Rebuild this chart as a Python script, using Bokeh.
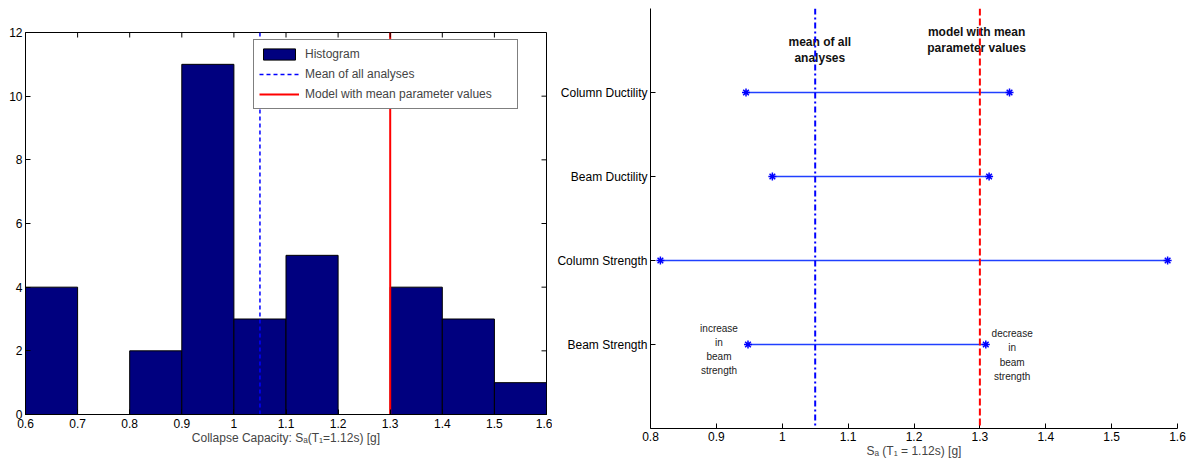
from bokeh.plotting import figure
from bokeh.layouts import row
from bokeh.models import (Range1d, FixedTicker, Legend, LegendItem,
                          CustomJSTickFormatter, Span)
from bokeh.core.properties import value
from bokeh.embed import file_html
from bokeh.resources import INLINE

# ---------------- data ----------------
bin_edges = [0.6, 0.7, 0.8, 0.9, 1.0, 1.1, 1.2, 1.3, 1.4, 1.5, 1.6]
counts = [4, 0, 2, 11, 3, 5, 0, 4, 3, 1]
mean_all = 1.05
model_mean = 1.30
hist_x_ticks = [0.6, 0.7, 0.8, 0.9, 1.0, 1.1, 1.2, 1.3, 1.4, 1.5, 1.6]
hist_y_ticks = [0, 2, 4, 6, 8, 10, 12]

factors = ["Beam Strength", "Column Strength", "Beam Ductility", "Column Ductility"]
low_vals = [0.948, 0.815, 0.985, 0.945]
high_vals = [1.309, 1.585, 1.314, 1.345]
tornado_x_ticks = [0.8, 0.9, 1.0, 1.1, 1.2, 1.3, 1.4, 1.5, 1.6]

FONT = "Liberation Sans"
fmt = CustomJSTickFormatter(code="return Number(tick.toFixed(2)).toString();")


def style_axis(ax):
    ax.major_tick_in = 5
    ax.major_tick_out = 0
    ax.minor_tick_line_color = None
    ax.axis_line_color = "black"
    ax.major_tick_line_color = "black"
    ax.major_label_text_font = FONT
    ax.major_label_text_font_size = "12px"
    ax.major_label_text_color = "black"
    ax.major_label_standoff = 3
    ax.axis_label_text_font = FONT
    ax.axis_label_text_font_size = "12px"
    ax.axis_label_text_font_style = "normal"
    ax.axis_label_standoff = 1


# ---------------- left: histogram ----------------
p1 = figure(frame_width=521, frame_height=382, output_backend="svg", toolbar_location=None,
            title=None,
            x_range=Range1d(bin_edges[0], bin_edges[-1]),
            y_range=Range1d(hist_y_ticks[0], hist_y_ticks[-1]),
            min_border_left=25, min_border_right=6, min_border_top=8, min_border_bottom=20)
p1.margin = (24, 0, 0, 0)
p1.grid.visible = False
p1.outline_line_color = "black"
p1.outline_line_width = 1

q = p1.quad(left=bin_edges[:-1], right=bin_edges[1:], bottom=0, top=counts,
            fill_color="#00007F", line_color="black", line_width=1)
l_mean = p1.line([mean_all, mean_all], [hist_y_ticks[0], hist_y_ticks[-1]],
                 line_color="#0000FF", line_width=1.5, line_dash="4 3")
l_model = p1.line([model_mean, model_mean], [hist_y_ticks[0], hist_y_ticks[-1]],
                  line_color="#FF0000", line_width=2)

# inward tick marks on the top and right edges (MATLAB box style)
ytop = hist_y_ticks[-1]
xright = bin_edges[-1]
tick_dy = 5 / 382 * (hist_y_ticks[-1] - hist_y_ticks[0])
tick_dx = 5 / 521 * (bin_edges[-1] - bin_edges[0])
p1.segment(x0=hist_x_ticks, y0=[ytop] * len(hist_x_ticks), x1=hist_x_ticks,
           y1=[ytop - tick_dy] * len(hist_x_ticks), line_color="black", line_width=1)
p1.segment(x0=[xright] * len(hist_y_ticks), y0=hist_y_ticks,
           x1=[xright - tick_dx] * len(hist_y_ticks), y1=hist_y_ticks,
           line_color="black", line_width=1)

p1.xaxis.ticker = FixedTicker(ticks=hist_x_ticks)
p1.yaxis.ticker = FixedTicker(ticks=hist_y_ticks)
p1.xaxis.formatter = fmt
p1.xaxis.axis_label = "Collapse Capacity: Sₐ(T₁=1.12s) [g]"
style_axis(p1.xaxis[0])
style_axis(p1.yaxis[0])
p1.xaxis.axis_label_standoff = 0
p1.xaxis.major_label_standoff = 4

legend = Legend(items=[LegendItem(label="Histogram", renderers=[q]),
                       LegendItem(label="Mean of all analyses", renderers=[l_mean]),
                       LegendItem(label="Model with mean parameter values", renderers=[l_model])],
                location=(228, 305))
legend.label_text_font = FONT
legend.label_text_font_size = "12px"
legend.border_line_color = "black"
legend.border_line_width = 1
legend.background_fill_alpha = 1
legend.padding = 5
legend.spacing = 2
legend.margin = 0
legend.glyph_width = 40
legend.glyph_height = 14
legend.label_height = 18
legend.label_width = 207
legend.label_standoff = 6
p1.add_layout(legend)

# ---------------- right: tornado ----------------
ypos = list(range(1, len(factors) + 1))
p2 = figure(frame_width=527, frame_height=420, output_backend="svg", toolbar_location=None,
            title=None,
            x_range=Range1d(tornado_x_ticks[0], tornado_x_ticks[-1]),
            y_range=Range1d(0, len(factors) + 1),
            min_border_left=98, min_border_right=9, min_border_top=8, min_border_bottom=20)
p2.grid.visible = False
p2.outline_line_color = None

p2.segment(x0=low_vals, y0=ypos, x1=high_vals, y1=ypos, line_color="#2040FF", line_width=1.6)
p2.scatter(low_vals, ypos, marker="asterisk", size=8, line_color="#0000FF", line_width=1.5)
p2.scatter(high_vals, ypos, marker="asterisk", size=8, line_color="#0000FF", line_width=1.5)

p2.add_layout(Span(location=mean_all, dimension="height", line_color="#0000FF",
                   line_width=2, line_dash="6 3 2 3"))
p2.add_layout(Span(location=model_mean, dimension="height", line_color="#FF0000",
                   line_width=2, line_dash="7 3"))

p2.text(x=[mean_all + 0.007, model_mean - 0.005], y=[4.51, 4.625],
        text=["mean of all\nanalyses", "model with mean\nparameter values"],
        text_font=value(FONT), text_font_style="bold", text_font_size="12px",
        text_align="center", text_baseline="middle", text_line_height=1.15,
        text_color="#111111")
p2.text(x=[low_vals[0] - 0.044, high_vals[0] + 0.04], y=[0.94, 0.875],
        text=["increase\nin\nbeam\nstrength", "decrease\nin\nbeam\nstrength"],
        text_font=value(FONT), text_font_size="10px",
        text_align="center", text_baseline="middle", text_line_height=1.3,
        text_color="#222222")

p2.xaxis.ticker = FixedTicker(ticks=tornado_x_ticks)
p2.xaxis.formatter = fmt
p2.xaxis.axis_label = "Sₐ (T₁ = 1.12s) [g]"
p2.yaxis.ticker = FixedTicker(ticks=ypos)
p2.yaxis.major_label_overrides = {y: f for y, f in zip(ypos, factors)}
style_axis(p2.xaxis[0])
style_axis(p2.yaxis[0])
p2.xaxis.axis_label_standoff = 0
p2.xaxis.major_label_standoff = 3

layout = row(p1, p2)
open("out.html", "w").write(file_html(layout, INLINE))
